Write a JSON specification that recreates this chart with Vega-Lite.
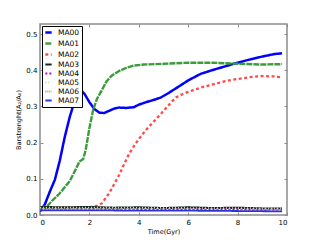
{
  "$schema": "https://vega.github.io/schema/vega-lite/v6.json",
  "autosize": {"type": "none"},
  "width": 247,
  "height": 191,
  "padding": {"left": 40, "top": 24, "right": 33, "bottom": 25},
  "background": "white",
  "config": {
    "font": "DejaVu Sans",
    "view": {"stroke": "#8c8c8c", "strokeWidth": 1.5},
    "axis": {"domain": false, "grid": false, "labelFont": "DejaVu Sans", "labelFontSize": 7, "labelColor": "#000", "titleFont": "DejaVu Sans", "titleFontSize": 6.5, "titleFontWeight": "normal", "titleColor": "#000", "tickColor": "#8c8c8c", "tickSize": -3, "labelPadding": 6}
  },
  "data": {"values": [
    {"s":"MA00","t":0,"v":0.01},{"s":"MA00","t":0.2,"v":0.03},{"s":"MA00","t":0.4,"v":0.065},{"s":"MA00","t":0.6,"v":0.097},{"s":"MA00","t":0.8,"v":0.15},{"s":"MA00","t":1.0,"v":0.215},{"s":"MA00","t":1.2,"v":0.27},{"s":"MA00","t":1.4,"v":0.315},{"s":"MA00","t":1.6,"v":0.338},{"s":"MA00","t":1.7,"v":0.342},{"s":"MA00","t":1.8,"v":0.335},{"s":"MA00","t":2.0,"v":0.312},{"s":"MA00","t":2.2,"v":0.293},{"s":"MA00","t":2.4,"v":0.283},{"s":"MA00","t":2.6,"v":0.282},{"s":"MA00","t":2.8,"v":0.288},{"s":"MA00","t":3.0,"v":0.294},{"s":"MA00","t":3.2,"v":0.297},{"s":"MA00","t":3.5,"v":0.296},{"s":"MA00","t":3.8,"v":0.298},{"s":"MA00","t":4.0,"v":0.305},{"s":"MA00","t":4.3,"v":0.312},{"s":"MA00","t":4.6,"v":0.318},{"s":"MA00","t":4.9,"v":0.325},{"s":"MA00","t":5.2,"v":0.337},{"s":"MA00","t":5.5,"v":0.35},{"s":"MA00","t":6.0,"v":0.372},{"s":"MA00","t":6.5,"v":0.39},{"s":"MA00","t":7.0,"v":0.401},{"s":"MA00","t":7.5,"v":0.411},{"s":"MA00","t":8.0,"v":0.421},{"s":"MA00","t":8.5,"v":0.43},{"s":"MA00","t":9.0,"v":0.438},{"s":"MA00","t":9.5,"v":0.445},{"s":"MA00","t":9.8,"v":0.447},
    {"s":"MA01","t":0,"v":0.02},{"s":"MA01","t":0.3,"v":0.025},{"s":"MA01","t":0.5,"v":0.04},{"s":"MA01","t":0.8,"v":0.06},{"s":"MA01","t":1.0,"v":0.077},{"s":"MA01","t":1.2,"v":0.093},{"s":"MA01","t":1.4,"v":0.12},{"s":"MA01","t":1.6,"v":0.148},{"s":"MA01","t":1.75,"v":0.155},{"s":"MA01","t":1.85,"v":0.18},{"s":"MA01","t":2.0,"v":0.24},{"s":"MA01","t":2.15,"v":0.29},{"s":"MA01","t":2.3,"v":0.32},{"s":"MA01","t":2.5,"v":0.345},{"s":"MA01","t":2.7,"v":0.37},{"s":"MA01","t":2.9,"v":0.385},{"s":"MA01","t":3.2,"v":0.398},{"s":"MA01","t":3.5,"v":0.407},{"s":"MA01","t":3.8,"v":0.413},{"s":"MA01","t":4.2,"v":0.416},{"s":"MA01","t":5.0,"v":0.418},{"s":"MA01","t":6.0,"v":0.421},{"s":"MA01","t":7.0,"v":0.421},{"s":"MA01","t":8.0,"v":0.418},{"s":"MA01","t":9.0,"v":0.416},{"s":"MA01","t":9.8,"v":0.417},
    {"s":"MA02","t":0,"v":0.02},{"s":"MA02","t":1.0,"v":0.02},{"s":"MA02","t":1.5,"v":0.022},{"s":"MA02","t":2.0,"v":0.022},{"s":"MA02","t":2.3,"v":0.025},{"s":"MA02","t":2.5,"v":0.032},{"s":"MA02","t":2.8,"v":0.06},{"s":"MA02","t":3.0,"v":0.085},{"s":"MA02","t":3.2,"v":0.11},{"s":"MA02","t":3.4,"v":0.14},{"s":"MA02","t":3.6,"v":0.168},{"s":"MA02","t":3.8,"v":0.19},{"s":"MA02","t":4.0,"v":0.21},{"s":"MA02","t":4.3,"v":0.236},{"s":"MA02","t":4.6,"v":0.258},{"s":"MA02","t":4.9,"v":0.28},{"s":"MA02","t":5.2,"v":0.303},{"s":"MA02","t":5.5,"v":0.325},{"s":"MA02","t":5.8,"v":0.335},{"s":"MA02","t":6.2,"v":0.345},{"s":"MA02","t":6.6,"v":0.354},{"s":"MA02","t":7.0,"v":0.361},{"s":"MA02","t":7.5,"v":0.37},{"s":"MA02","t":8.0,"v":0.376},{"s":"MA02","t":8.5,"v":0.381},{"s":"MA02","t":9.0,"v":0.384},{"s":"MA02","t":9.5,"v":0.383},{"s":"MA02","t":9.8,"v":0.38},
    {"s":"MA03","t":0,"v":0.022},{"s":"MA03","t":1,"v":0.021},{"s":"MA03","t":2,"v":0.022},{"s":"MA03","t":3,"v":0.02},{"s":"MA03","t":4,"v":0.021},{"s":"MA03","t":5,"v":0.019},{"s":"MA03","t":6,"v":0.021},{"s":"MA03","t":7,"v":0.019},{"s":"MA03","t":8,"v":0.02},{"s":"MA03","t":9,"v":0.018},{"s":"MA03","t":9.8,"v":0.018},
    {"s":"MA04","t":0,"v":0.018},{"s":"MA04","t":2,"v":0.018},{"s":"MA04","t":4,"v":0.017},{"s":"MA04","t":6,"v":0.016},{"s":"MA04","t":8,"v":0.016},{"s":"MA04","t":9.8,"v":0.015},
    {"s":"MA05","t":0,"v":0.02},{"s":"MA05","t":3,"v":0.02},{"s":"MA05","t":6,"v":0.019},{"s":"MA05","t":9.8,"v":0.018},
    {"s":"MA06","t":0,"v":0.017},{"s":"MA06","t":3,"v":0.017},{"s":"MA06","t":6,"v":0.016},{"s":"MA06","t":9.8,"v":0.015},
    {"s":"MA07","t":0,"v":0.013},{"s":"MA07","t":2,"v":0.013},{"s":"MA07","t":4,"v":0.012},{"s":"MA07","t":6,"v":0.012},{"s":"MA07","t":8,"v":0.011},{"s":"MA07","t":9.8,"v":0.01}
  ]},
  "layer": [
    {
      "mark": {"type": "line", "clip": true},
      "encoding": {
        "x": {"field": "t", "type": "quantitative", "scale": {"domain": [0, 10], "nice": false}, "axis": {"title": "Time(Gyr)", "values": [0,2,4,6,8,10], "format": "d", "titlePadding": 3}},
        "y": {"field": "v", "type": "quantitative", "scale": {"domain": [0, 0.528], "nice": false}, "axis": {"title": "Barstrenght(A₂/A₀)", "values": [0,0.1,0.2,0.3,0.4,0.5], "format": ".1f", "titlePadding": 4}},
        "color": {"field": "s", "type": "nominal", "scale": {"domain": ["MA00","MA01","MA02","MA03","MA04","MA05","MA06","MA07"], "range": ["#0000ff","#3c9c3c","#ff4a4a","#142a26","#cc00cc","#c8dc90","#999999","#3030dd"]},
          "legend": {"title": null, "orient": "top-left", "offset": 2, "labelFontSize": 7.5, "labelFont": "DejaVu Sans", "symbolType": "stroke", "symbolSize": 40, "symbolStrokeWidth": 1.5, "rowPadding": 0, "padding": 2, "strokeColor": "#000", "fillColor": "white", "labelOffset": 5}},
        "strokeDash": {"field": "s", "type": "nominal", "scale": {"domain": ["MA00","MA01","MA02","MA03","MA04","MA05","MA06","MA07"], "range": [[1,0],[6,1],[3,2.5],[1,0],[2,2],[1,2],[1,1],[1,0]]}, "legend": {"title": null}},
        "strokeWidth": {"field": "s", "type": "nominal", "scale": {"domain": ["MA00","MA01","MA02","MA03","MA04","MA05","MA06","MA07"], "range": [2.5,1.8,0.8,2.2,1.2,1.2,1,3.5]}, "legend": null},
        "order": {"field": "t", "type": "quantitative"}
      }
    },
    {
      "mark": {"type": "line", "opacity": 0},
      "encoding": {
        "x": {"field": "t", "type": "quantitative", "axis": {"orient": "top", "labels": false, "title": null, "values": [0,2,4,6,8,10]}},
        "y": {"field": "v", "type": "quantitative", "axis": {"orient": "right", "labels": false, "title": null, "values": [0,0.1,0.2,0.3,0.4,0.5]}},
        "detail": {"field": "s"}
      }
    }
  ],
  "resolve": {"axis": {"x": "independent", "y": "independent"}}
}
